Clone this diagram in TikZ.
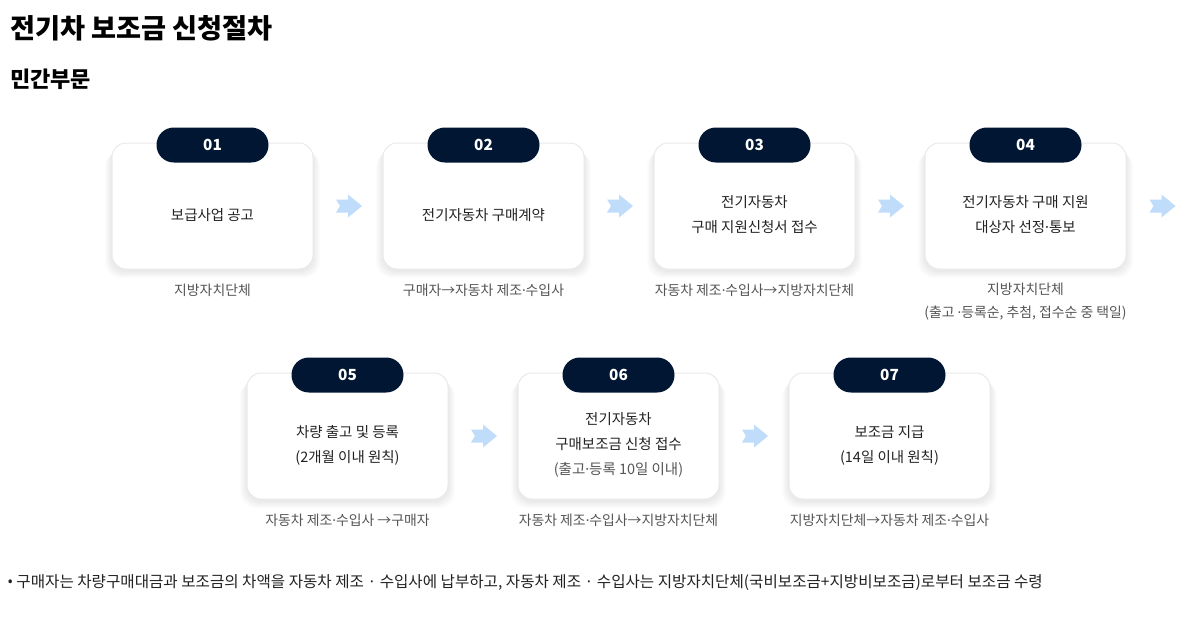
\documentclass[tikz,border=0pt]{standalone}
\usepackage{fontspec}
\setmainfont{Noto Sans CJK KR}
\newfontfamily\latinfont{Noto Sans}
\usetikzlibrary{calc}
\definecolor{navy}{HTML}{011633}
\definecolor{ink}{HTML}{222222}
\definecolor{capgray}{HTML}{555555}
\definecolor{boxline}{HTML}{EAEAEA}
\definecolor{arrowblue}{HTML}{BFDCFB}
\newcommand\setfs[2]{\fontsize{#1}{#2}\selectfont}
\newcommand\md{{\latinfont ·}}
\begin{document}
\begin{tikzpicture}[x=0.75pt,y=-0.75pt,
  stepbox/.style={draw=boxline, line width=0.75pt, fill=white, rounded corners=10.5pt,
    minimum width=150.75pt, minimum height=94.5pt, inner sep=0pt},
  shade1/.style={fill=black, fill opacity=0.012, draw=none, rounded corners=12pt},
  pill/.style={fill=navy, rounded corners=13pt, minimum width=84pt, minimum height=26.25pt,
    inner sep=0pt, text=white, font=\setfs{11.5pt}{13pt}\bfseries},
  boxtext/.style={align=center, inner sep=0pt, text=ink, font=\setfs{10.85pt}{18.75pt}},
  captext/.style={align=center, inner sep=0pt, text=capgray, font=\setfs{10.4pt}{17.25pt}},
  chev/.pic={\fill[arrowblue] (-13,-6.5) -- (-1,-6.5) -- (-1,-11.5) -- (13,0) -- (-1,11.5) -- (-1,6.5) -- (-13,6.5) -- (-9,0) -- cycle;}
]
\useasboundingbox[fill=white] (0,0) rectangle (1197,625);

% titles
\node[anchor=west, inner sep=0pt, font=\setfs{20.4pt}{24pt}\bfseries, text=black] (title) at (10,28) {전기차 보조금 신청절차};
\node[anchor=west, inner sep=0pt, font=\setfs{16.5pt}{19pt}\bfseries, text=black] (sub) at (10,79) {민간부문};

% soft shadows
\foreach \x/\y in {212.5/206,483.5/206,754.5/206,1025.5/206,347.5/436,618.5/436,889.5/436}{
  \foreach \g in {1,...,7}{
    \fill[shade1] (\x-100.5-\g,\y-62+\g) rectangle (\x+100.5+\g,\y+63+2+\g);
  }
}

% boxes row 1
\foreach \i/\x in {1/212.5,2/483.5,3/754.5,4/1025.5}{
  \node[stepbox] (b\i) at (\x,206) {};
}
% boxes row 2
\foreach \i/\x in {5/347.5,6/618.5,7/889.5}{
  \node[stepbox] (b\i) at (\x,436) {};
}
% pills
\foreach \i in {1,...,7}{
  \node[pill] (p\i) at ($(b\i.north)+(0,2.5)$) {0\i};
}

% box texts
\node[boxtext] (t1) at ($(b1.center)+(0,9)$) {보급사업 공고};
\node[boxtext] (t2) at ($(b2.center)+(0,9)$) {전기자동차 구매계약};
\node[boxtext] (t3) at ($(b3.center)+(0,9)$) {전기자동차\\구매 지원신청서 접수};
\node[boxtext] (t4) at ($(b4.center)+(0,9)$) {전기자동차 구매 지원\\대상자 선정\md 통보};
\node[boxtext] (t5) at ($(b5.center)+(0,9)$) {차량 출고 및 등록\\(2개월 이내 원칙)};
\node[boxtext] (t6) at ($(b6.center)+(0,9)$) {전기자동차\\구매보조금 신청 접수\\{\color{capgray}(출고\md 등록 10일 이내)}};
\node[boxtext] (t7) at ($(b7.center)+(0,9)$) {보조금 지급\\(14일 이내 원칙)};

% captions
\node[captext] (c1) at ($(b1.south)+(0,21)$) {지방자치단체};
\node[captext] (c2) at ($(b2.south)+(0,21)$) {구매자→자동차 제조\md 수입사};
\node[captext] (c3) at ($(b3.south)+(0,21)$) {자동차 제조\md 수입사→지방자치단체};
\node[captext] (c4) at ($(b4.south)+(0,32)$) {지방자치단체\\(출고 \md 등록순, 추첨, 접수순 중 택일)};
\node[captext] (c5) at ($(b5.south)+(0,21)$) {자동차 제조\md 수입사 →구매자};
\node[captext] (c6) at ($(b6.south)+(0,21)$) {자동차 제조\md 수입사→지방자치단체};
\node[captext] (c7) at ($(b7.south)+(0,21)$) {지방자치단체→자동차 제조\md 수입사};

% arrows
\coordinate (a12) at ($(b1.east)!0.5!(b2.west)+(1,0)$);
\coordinate (a23) at ($(b2.east)!0.5!(b3.west)+(1,0)$);
\coordinate (a34) at ($(b3.east)!0.5!(b4.west)+(1,0)$);
\coordinate (a4x) at ($(b4.east)+(36,0)$);
\coordinate (a56) at ($(b5.east)!0.5!(b6.west)+(1,0)$);
\coordinate (a67) at ($(b6.east)!0.5!(b7.west)+(1,0)$);
\foreach \c in {a12,a23,a34,a4x,a56,a67}{
  \pic at (\c) {chev};
}

% note
\node[anchor=west, inner sep=0pt, text=ink, font=\setfs{11.7pt}{14pt}] (note) at (7,583) {{\latinfont •}\hspace{2.5pt}구매자는 차량구매대금과 보조금의 차액을 자동차 제조 · 수입사에 납부하고, 자동차 제조 · 수입사는 지방자치단체(국비보조금+지방비보조금)로부터 보조금 수령};
\end{tikzpicture}
\end{document}
